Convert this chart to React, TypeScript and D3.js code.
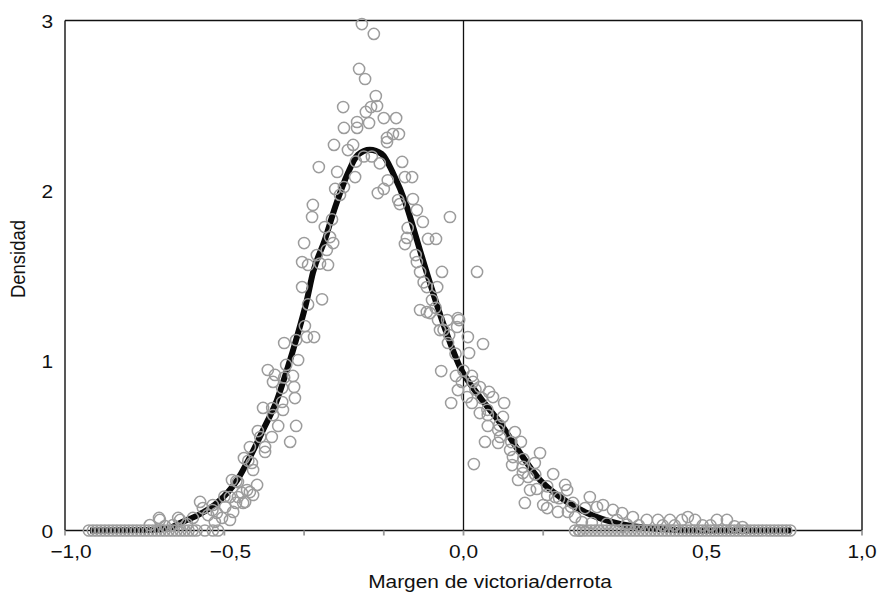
import React from "react";
import * as d3 from "d3";

// ---- data ----
const xTickValues = [-1, -0.8, -0.6, -0.4, -0.2, 0, 0.2, 0.4, 0.6, 0.8, 1];
const xLabelValues = [-1, -0.6, 0, 0.6, 1];
const xLabelTexts = ["\u22121,0", "\u22120,5", "0,0", "0,5", "1,0"];
const yLabelValues = [0, 1, 2, 3];
const yLabelTexts = ["0", "1", "2", "3"];

const leftZeroX = [-0.94, -0.93, -0.92, -0.91, -0.9, -0.89, -0.88, -0.87, -0.86, -0.85, -0.84, -0.83, -0.82, -0.81, -0.8, -0.79, -0.78, -0.77, -0.76, -0.75, -0.74, -0.73, -0.72, -0.71, -0.7, -0.69, -0.68, -0.67];
const rightZeroX = [0.28, 0.29, 0.3, 0.31, 0.32, 0.33, 0.34, 0.35, 0.36, 0.37, 0.38, 0.39, 0.4, 0.41, 0.42, 0.43, 0.44, 0.45, 0.46, 0.47, 0.48, 0.49, 0.5, 0.51, 0.52, 0.53, 0.54, 0.55, 0.56, 0.57, 0.58, 0.59, 0.6, 0.61, 0.62, 0.63, 0.64, 0.65, 0.66, 0.67, 0.68, 0.69, 0.7, 0.71, 0.72, 0.73, 0.74, 0.75, 0.76, 0.77, 0.78, 0.79, 0.8, 0.81, 0.82];

const leftPoints: [number, number][] = [
  [-0.764, 0.074], [-0.716, 0.074], [-0.762, 0.062], [-0.711, 0.062], [-0.729, 0.032], [-0.694, 0.038], [-0.679, 0.074], [-0.787, 0.032], [-0.749, 0.026],
  [-0.661, 0.168], [-0.654, 0.132], [-0.641, 0.091], [-0.624, 0.05], [-0.649, 0], [-0.629, 0], [-0.616, 0], [-0.629, 0.15], [-0.619, 0.103], [-0.606, 0.074], [-0.598, 0.138],
  [-0.586, 0.062], [-0.586, 0.197], [-0.578, 0.109], [-0.571, 0.162], [-0.566, 0.197], [-0.581, 0.297], [-0.566, 0.285], [-0.556, 0.221], [-0.553, 0.162], [-0.548, 0.168],
  [-0.543, 0.238], [-0.536, 0.226], [-0.528, 0.209], [-0.551, 0.426], [-0.536, 0.491], [-0.531, 0.397], [-0.528, 0.356], [-0.518, 0.268], [-0.516, 0.585], [-0.498, 0.491],
  [-0.498, 0.462], [-0.503, 0.721], [-0.481, 0.55], [-0.478, 0.679], [-0.465, 0.615], [-0.491, 0.944], [-0.473, 0.915], [-0.478, 0.874], [-0.455, 0.838], [-0.455, 0.756],
  [-0.453, 0.709], [-0.45, 1.103], [-0.445, 0.974], [-0.435, 0.521], [-0.428, 0.909], [-0.425, 0.844], [-0.423, 0.779], [-0.42, 0.615], [-0.415, 1.003], [-0.398, 1.203],
  [-0.393, 1.138], [-0.375, 1.138], [-0.355, 1.36],
];

const peakPoints: [number, number][] = [
  [-0.405, 1.432], [-0.405, 1.579], [-0.39, 1.562], [-0.34, 1.562], [-0.368, 1.62], [-0.343, 1.65], [-0.4, 1.691], [-0.327, 1.691], [-0.335, 1.726], [-0.348, 1.785],
  [-0.38, 1.844], [-0.378, 1.915], [-0.322, 2.009], [-0.31, 1.974], [-0.363, 2.138], [-0.317, 2.109], [-0.272, 2.079], [-0.325, 2.268], [-0.29, 2.238], [-0.277, 2.268],
  [-0.192, 2.285], [-0.215, 1.985], [-0.2, 2.009], [-0.154, 2.168], [-0.147, 2.079], [-0.129, 2.079], [-0.164, 1.944], [-0.127, 1.95], [-0.117, 1.885], [-0.034, 1.844],
  [-0.102, 1.815], [-0.142, 1.721], [-0.147, 1.685], [-0.089, 1.715], [-0.069, 1.715], [-0.117, 1.579], [-0.109, 1.521], [-0.054, 1.521], [0.034, 1.521], [-0.092, 1.432],
  [-0.066, 1.432], [-0.079, 1.356], [-0.109, 1.297], [-0.092, 1.285], [-0.014, 1.25],
  [-0.255, 2.979], [-0.225, 2.921], [-0.262, 2.715], [-0.247, 2.656], [-0.22, 2.556], [-0.302, 2.491], [-0.232, 2.491], [-0.217, 2.497], [-0.245, 2.462], [-0.2, 2.426],
  [-0.169, 2.426], [-0.267, 2.403], [-0.237, 2.397], [-0.3, 2.368], [-0.267, 2.368], [-0.192, 2.309], [-0.177, 2.332], [-0.162, 2.332],
];

const rightPoints: [number, number][] = [
  [-0.084, 1.279], [-0.064, 1.238], [-0.041, 1.238], [-0.011, 1.238], [-0.016, 1.197], [-0.059, 1.179], [-0.036, 1.15], [-0.039, 1.103], [0.011, 1.138], [0.049, 1.097],
  [0.014, 1.044], [-0.056, 0.938], [-0.019, 0.909], [0.021, 0.909], [-0.004, 0.874], [0.024, 0.874], [0.041, 0.844], [-0.014, 0.826], [0.009, 0.785], [-0.031, 0.75],
  [0.021, 0.75], [0.064, 0.815], [0.074, 0.785], [0.046, 0.779], [0.102, 0.75], [0.041, 0.691], [0.061, 0.679], [0.061, 0.615], [0.099, 0.668], [0.087, 0.591],
  [0.129, 0.579], [0.092, 0.55], [0.144, 0.521], [0.054, 0.521], [0.087, 0.515], [0.117, 0.474], [0.124, 0.432], [0.122, 0.385], [0.026, 0.391], [0.149, 0.374],
  [0.192, 0.456], [0.179, 0.397], [0.149, 0.338], [0.137, 0.297], [0.162, 0.315], [0.225, 0.332], [0.167, 0.238], [0.184, 0.244], [0.21, 0.209], [0.23, 0.197],
  [0.255, 0.268], [0.26, 0.238], [0.154, 0.162], [0.2, 0.15], [0.21, 0.132], [0.237, 0.109], [0.275, 0.162], [0.317, 0.197], [0.305, 0.132], [0.262, 0.109],
  [0.28, 0.079], [0.297, 0.05], [0.322, 0.044], [0.292, 0], [0.335, 0.138],
  [0.35, 0.15], [0.375, 0.121], [0.398, 0.103], [0.425, 0.079], [0.46, 0.062], [0.488, 0.062], [0.518, 0.062], [0.548, 0.062], [0.563, 0.079], [0.581, 0.062],
  [0.636, 0.062], [0.661, 0.062], [0.385, 0.062], [0.36, 0.04], [0.41, 0.035], [0.44, 0.03], [0.5, 0.03], [0.53, 0.03], [0.6, 0.03], [0.62, 0.03], [0.68, 0.025], [0.7, 0.02],
];

const onCurvePoints: [number, number][] = [
  [-0.25, 2.2], [-0.23, 2.2], [-0.21, 2.16], [-0.27, 2.17], [-0.3, 2.02], [-0.19, 2.06], [-0.16, 1.92], [-0.14, 1.78], [-0.12, 1.62], [-0.1, 1.46],
  [-0.07, 1.31], [-0.05, 1.18], [-0.02, 1.04], [0.0, 0.94], [0.03, 0.83], [0.06, 0.71], [0.09, 0.62], [0.12, 0.52], [0.15, 0.42], [0.18, 0.33],
  [0.21, 0.26], [0.24, 0.19], [0.27, 0.14], [-0.33, 1.83], [-0.36, 1.57], [-0.39, 1.33], [-0.42, 1.12], [-0.45, 0.9], [-0.48, 0.72], [-0.51, 0.55],
  [-0.54, 0.41], [-0.57, 0.29], [-0.6, 0.2], [-0.63, 0.12],
];

const curveX = [-0.937, -0.787, -0.737, -0.711, -0.661, -0.619, -0.568, -0.536, -0.503, -0.468, -0.443, -0.418, -0.393, -0.378, -0.348, -0.322, -0.29, -0.265, -0.235, -0.205, -0.177, -0.142, -0.117, -0.092, -0.054, -0.009, 0.041, 0.092, 0.142, 0.192, 0.242, 0.31, 0.393, 0.493, 0.593, 0.824];
const curveY = [0, 0.003, 0.015, 0.044, 0.097, 0.162, 0.297, 0.432, 0.591, 0.768, 0.944, 1.138, 1.356, 1.515, 1.709, 1.903, 2.103, 2.21, 2.24, 2.215, 2.103, 1.903, 1.709, 1.515, 1.238, 0.962, 0.785, 0.632, 0.456, 0.297, 0.197, 0.103, 0.038, 0.009, 0, 0];

const xTitle = "Margen de victoria/derrota";
const yTitle = "Densidad";

// ---- layout ----
const W = 882;
const H = 593;
const L = 65, R = 862, T = 20.5, B = 530.5;
const FONT = "'Liberation Sans', Arial, Helvetica, sans-serif";
const SX = 1.13; // horizontal stretch of the lettering

export default function App() {
  const x = d3.scaleLinear().domain([-1, 1]).range([L, R]);
  const y = d3.scaleLinear().domain([0, 3]).range([B, T]);

  const curveData = curveX.map((v, i) => [v, curveY[i]] as [number, number]);
  const line = d3
    .line<[number, number]>()
    .x((d) => x(d[0]))
    .y((d) => y(d[1]))
    .curve(d3.curveMonotoneX);

  const allPoints: [number, number][] = [
    ...leftZeroX.map((v) => [v, 0] as [number, number]),
    ...rightZeroX.map((v) => [v, 0] as [number, number]),
    ...leftPoints,
    ...peakPoints,
    ...rightPoints,
    ...onCurvePoints,
  ];

  const txt = (
    key: string,
    px: number,
    py: number,
    s: string,
    anchor: string,
    size = 18.5
  ) => (
    <text
      key={key}
      transform={`translate(${px},${py}) scale(${SX},1)`}
      textAnchor={anchor}
      fontFamily={FONT}
      fontSize={size}
      fill="#111"
    >
      {s}
    </text>
  );

  return (
    <svg
      width={W}
      height={H}
      style={{ position: "absolute", left: 0, top: 0, background: "#fff" }}
    >
      {/* frame */}
      <line x1={L} x2={R} y1={T} y2={T} stroke="#111" strokeWidth={1.4} />
      <line x1={R} x2={R} y1={T} y2={B} stroke="#555" strokeWidth={2} />
      <line x1={L} x2={L} y1={T} y2={B} stroke="#111" strokeWidth={1.4} />
      <line x1={L} x2={R} y1={B} y2={B} stroke="#111" strokeWidth={1.4} />
      <line x1={x(0)} x2={x(0)} y1={T} y2={B} stroke="#111" strokeWidth={1.3} />

      {/* x ticks */}
      {xTickValues.map((v) => (
        <line key={"t" + v} x1={x(v)} x2={x(v)} y1={B} y2={B + 5} stroke="#999" strokeWidth={1.8} />
      ))}

      {/* density curve */}
      <path d={line(curveData) || ""} fill="none" stroke="#0a0a0a" strokeWidth={6} strokeLinejoin="round" />

      {/* points */}
      <g fill="none" stroke="#9c9c9c" strokeWidth={1.5}>
        {allPoints.map((p, i) => (
          <circle key={i} cx={x(p[0])} cy={y(p[1])} r={5.6} />
        ))}
      </g>

      {/* x labels */}
      {xLabelValues.map((v, i) =>
        txt("xl" + i, x(v) + (v < 0 ? 6 : v === 0.6 ? 4 : 0), 558, xLabelTexts[i], "middle")
      )}
      {/* y labels */}
      {yLabelValues.map((v, i) => txt("yl" + i, 53, y(v) + 7, yLabelTexts[i], "end"))}

      {/* titles */}
      {txt("xt", 490, 588, xTitle, "middle")}
      <text
        transform={`translate(25,259) scale(${SX},1) rotate(-90)`}
        textAnchor="middle"
        fontFamily={FONT}
        fontSize={18.5}
        fill="#111"
      >
        {yTitle}
      </text>
    </svg>
  );
}
